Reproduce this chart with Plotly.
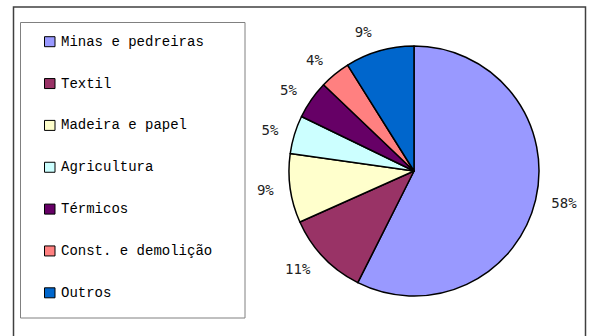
import plotly.graph_objects as go

# Waste sources by sector (percent of total)
categories = ["Minas e pedreiras", "Textil", "Madeira e papel", "Agricultura",
              "Térmicos", "Const. e demolição", "Outros"]
shares = [58, 11, 9, 5, 5, 4, 9]
colors = ["#9999FF", "#993366", "#FFFFCC", "#CCFFFF", "#660066", "#FF8080", "#0066CC"]

W, H = 593, 336


def px(x):
    return x / W


def py(y):
    return 1 - y / H


def domain(cx, cy, r):
    return dict(x=[px(cx - r), px(cx + r)], y=[py(cy + r), py(cy - r)])


# pie placement (pixels)
cx, cy, r = 414, 171, 125
label_gap = 12  # extra distance between slice edge and its percentage label

common = dict(labels=categories, values=shares, sort=False,
              direction="clockwise", rotation=0, showlegend=False)

fig = go.Figure()
# transparent copy, slightly larger, carries the percentage labels
fig.add_trace(go.Pie(
    **common,
    marker=dict(colors=["rgba(0,0,0,0)"] * len(shares), line=dict(width=0)),
    textposition="outside",
    texttemplate="%{value}%",
    textfont=dict(family="DejaVu Sans Mono", size=14, color="#222222"),
    hoverinfo="skip",
    domain=domain(cx, cy, r + label_gap),
))
# visible pie
fig.add_trace(go.Pie(
    **common,
    marker=dict(colors=colors, line=dict(color="#000000", width=1.5)),
    textinfo="none",
    hoverinfo="label+percent",
    domain=domain(cx, cy, r),
))

shapes = [
    # outer chart frame
    dict(type="rect", xref="paper", yref="paper",
         x0=px(13.5), x1=px(585.5), y0=-0.05, y1=py(7),
         line=dict(color="#404040", width=1.5), fillcolor="rgba(0,0,0,0)"),
    # legend box
    dict(type="rect", xref="paper", yref="paper",
         x0=px(20.5), x1=px(245), y0=py(318), y1=py(22.5),
         line=dict(color="#808080", width=1), fillcolor="#FFFFFF"),
]
annotations = []
row0, step = 41.7, 41.85
for i, (name, col) in enumerate(zip(categories, colors)):
    yc = row0 + step * i
    shapes.append(dict(type="rect", xref="paper", yref="paper",
                       x0=px(44.5), x1=px(55), y0=py(yc + 5), y1=py(yc - 5),
                       line=dict(color="#000000", width=1), fillcolor=col))
    annotations.append(dict(xref="paper", yref="paper", x=px(59), y=py(yc),
                            xanchor="left", yanchor="middle", showarrow=False,
                            text=name,
                            font=dict(family="Liberation Mono", size=14, color="#000000")))

fig.update_layout(
    width=W, height=H,
    margin=dict(l=0, r=0, t=0, b=0),
    paper_bgcolor="#FFFFFF",
    plot_bgcolor="#FFFFFF",
    shapes=shapes,
    annotations=annotations,
)

fig.write_html("out.html")
